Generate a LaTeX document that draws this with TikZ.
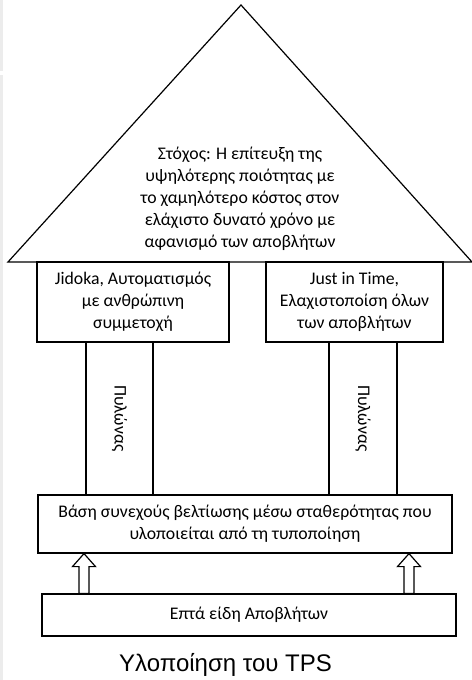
\documentclass[tikz,border=0pt]{standalone}
\usepackage{fontspec}
\setmainfont{Carlito}
\newfontfamily\captfont{Liberation Sans}
\usepackage{tikz}
\usetikzlibrary{calc}

\tikzset{
  box/.style={draw,line width=0.9pt,align=center,inner sep=0pt,
    font=\fontsize{13.3}{16.5}\selectfont},
  hollow/.style={draw,line width=0.9pt,fill=white}
}

\begin{document}
\begin{tikzpicture}[x=0.75pt,y=-0.75pt]
  \useasboundingbox (0,0) rectangle (471,680);
  \fill[gray!15] (0,0) rectangle (3,71);
  \fill[gray!15] (0,75) rectangle (3,680);
  % roof
  \draw[line width=0.9pt] (8,262)--(241,5)--(472,262)--cycle;
  \node[box,draw=none] (goal) at (240,199)
    {Στόχος: Η επίτευξη της\\υψηλότερης ποιότητας με\\το χαμηλότερο κόστος στον\\ελάχιστο δυνατό χρόνο με\\αφανισμό των αποβλήτων};
  % the two main parts
  \node[box,minimum width=144pt,minimum height=60pt] (jidoka) at (133,302)
    {Jidoka, Αυτοματισμός\\με ανθρώπινη\\συμμετοχή};
  \node[box,minimum width=132.75pt,minimum height=60pt] (jit) at (354.5,302)
    {Just in Time,\\Ελαχιστοποίση όλων\\των αποβλήτων};
  % pillars
  \node[box,minimum width=50.25pt,minimum height=114.75pt] (pilL) at (119.5,418.5) {};
  \node[rotate=-90,font=\fontsize{13.3}{16.5}\selectfont] at (pilL) {Πυλώνας};
  \node[box,minimum width=51pt,minimum height=114.75pt] (pilR) at (363,418.5) {};
  \node[rotate=-90,font=\fontsize{13.3}{16.5}\selectfont] at (pilR) {Πυλώνας};
  % base
  \node[box,minimum width=310.5pt,minimum height=43.5pt] (base) at (245,524)
    {Βάση συνεχούς βελτίωσης μέσω σταθερότητας που\\υλοποιείται από τη τυποποίηση};
  \node[box,minimum width=310.5pt,minimum height=31.5pt] (waste) at (249,615)
    {Επτά είδη Αποβλήτων};
  \foreach \ax in {84,409}
    \draw[hollow] (base.south -| \ax,0) -- ++(11.5,13) -- ++(-6.5,0)
      -- ($(waste.north -| \ax,0)+(5,0)$) -- ++(-10,0)
      -- ($(base.south -| \ax,0)+(-5,13)$) -- ++(-6.5,0) -- cycle;
  \node[font=\captfont\fontsize{18}{21}\selectfont] (title) at (225.5,665) {Υλοποίηση του TPS};
\end{tikzpicture}
\end{document}
